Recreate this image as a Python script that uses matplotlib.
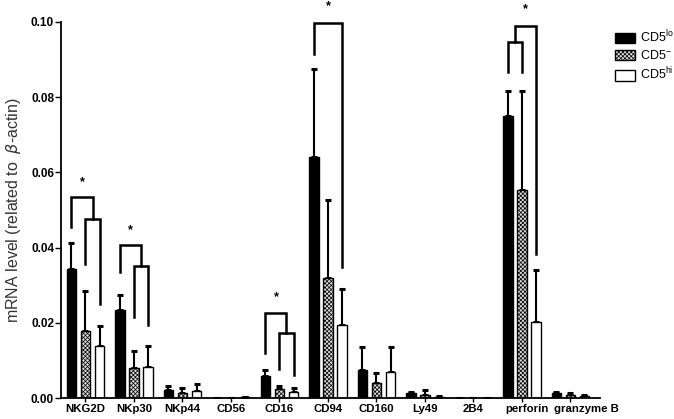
import numpy as np
import matplotlib.pyplot as plt
from matplotlib.patches import Patch

plt.rcParams['font.family'] = ['Liberation Sans', 'DejaVu Sans']
plt.rcParams['hatch.color'] = '#7a7a7a'
plt.rcParams['hatch.linewidth'] = 0.5

categories = ['NKG2D', 'NKp30', 'NKp44', 'CD56', 'CD16', 'CD94', 'CD160',
              'Ly49', '2B4', 'perforin', 'granzyme B']
series_labels = [r'CD5$^{\mathregular{lo}}$', r'CD5$^{\mathregular{-}}$', r'CD5$^{\mathregular{hi}}$']

cd5_lo = [0.0342, 0.0235, 0.0020, 0.0001, 0.0059, 0.0642, 0.0074, 0.0012, 0.0, 0.0751, 0.0012]
cd5_lo_err = [0.0069, 0.0040, 0.0011, 0.0, 0.0016, 0.0232, 0.0062, 0.0004, 0.0, 0.0066, 0.0004]
cd5_neg = [0.0179, 0.0080, 0.0013, 0.0, 0.0024, 0.0320, 0.0040, 0.0008, 0.0, 0.0553, 0.0009]
cd5_neg_err = [0.0105, 0.0046, 0.0014, 0.0, 0.0007, 0.0207, 0.0027, 0.0012, 0.0, 0.0264, 0.0004]
cd5_hi = [0.0139, 0.0083, 0.0018, 0.0002, 0.0016, 0.0194, 0.0068, 0.0003, 0.0, 0.0201, 0.0005]
cd5_hi_err = [0.0052, 0.0056, 0.0020, 0.0, 0.0010, 0.0095, 0.0068, 0.0002, 0.0, 0.0140, 0.0002]

# significance brackets: category, left leg (group slot), right leg, left bottom, right bottom, top
brackets = [
    ('NKG2D', 0, 1, 0.0357, 0.0250, 0.0477),
    ('NKG2D', -1, 0.5, 0.0456, 0.0477, 0.0534),
    ('NKp30', 0, 1, 0.0216, 0.0194, 0.0350),
    ('NKp30', -1, 0.5, 0.0335, 0.0350, 0.0406),
    ('CD16', 0, 1, 0.0077, 0.0061, 0.0174),
    ('CD16', -1, 0.5, 0.0119, 0.0174, 0.0225),
    ('CD94', -1, 1, 0.0914, 0.0348, 0.0998),
    ('perforin', -1, 0, 0.0868, 0.0868, 0.0948),
    ('perforin', -0.5, 1, 0.0948, 0.0384, 0.0989),
]
stars = {'NKG2D': 0.0574, 'NKp30': 0.0446, 'CD16': 0.0269, 'CD94': 0.1042, 'perforin': 0.1033}

x = np.arange(len(categories))
step = 0.29
width = 0.2

fig = plt.figure(figsize=(6.74, 4.19), dpi=100)
ax = fig.add_axes([61 / 674, 21 / 419, 539 / 674, 376 / 419])

styles = [dict(facecolor='black', edgecolor='black'),
          dict(facecolor='#d8d8d8', edgecolor='black', hatch='xxxxxxxx'),
          dict(facecolor='white', edgecolor='black')]
groups = [(cd5_lo, cd5_lo_err), (cd5_neg, cd5_neg_err), (cd5_hi, cd5_hi_err)]

for i, ((vals, errs), st) in enumerate(zip(groups, styles)):
    xs = x + (i - 1) * step
    ax.bar(xs, vals, width, linewidth=1.0, zorder=2, **st)
    ax.errorbar(xs, vals, yerr=[np.zeros(len(errs)), errs], fmt='none',
                ecolor='black', elinewidth=1.5, capsize=2.2, capthick=2.2, zorder=1)

for cat, l, r, yl, yr, top in brackets:
    c = categories.index(cat)
    xl = c + l * step
    xr = c + r * step
    ax.plot([xl, xl, xr, xr], [yl, top, top, yr], color='black', lw=1.8,
            solid_joinstyle='miter', clip_on=False, zorder=3)

for cat, h in stars.items():
    c = categories.index(cat)
    last = [b for b in brackets if b[0] == cat][-1]
    xm = c + (last[1] + last[2]) / 2 * step
    ax.text(xm, h, '*', ha='center', va='center', fontsize=9, fontweight='bold',
            clip_on=False)

ax.set_xlim(-0.505, 10.61)
ax.set_ylim(0, 0.10)
# tick marks on the categories, labels on minor ticks (last two sit a bit to the right)
ax.xaxis.remove_overlapping_locs = False
ax.set_xticks(x, labels=[''] * len(x))
label_pos = x.astype(float)
label_pos[-2] += 0.1
label_pos[-1] += 0.33
ax.set_xticks(label_pos, labels=categories, minor=True)
for lbl in ax.get_xticklabels(minor=True):
    lbl.set_fontsize(8.2)
    lbl.set_fontweight('bold')
ax.tick_params(axis='x', which='major', length=3, width=1.0)
ax.tick_params(axis='x', which='minor', length=0, pad=4)
ax.set_yticks(np.arange(0, 0.101, 0.02))
ax.set_yticklabels(['%.2f' % v for v in np.arange(0, 0.101, 0.02)],
                   fontsize=8.5, fontweight='bold')
ax.tick_params(axis='y', length=4, width=1.0, pad=1)
for s in ['top', 'right']:
    ax.spines[s].set_visible(False)
for s in ['left', 'bottom']:
    ax.spines[s].set_linewidth(1.3)

ax.set_ylabel(r'mRNA level (related to  $\beta$-actin)', fontsize=11.5,
              color='#333333', labelpad=6)

handles = [Patch(linewidth=1.0, **st) for st in styles]
ax.legend(handles, series_labels, loc='upper left', bbox_to_anchor=(610 / 674, 1 - 24 / 419),
          bbox_transform=fig.transFigure, frameon=False, fontsize=9,
          handlelength=1.6, handleheight=0.9, handletextpad=0.4, labelspacing=0.3,
          borderaxespad=0)

fig.savefig('out.png', dpi=100)
